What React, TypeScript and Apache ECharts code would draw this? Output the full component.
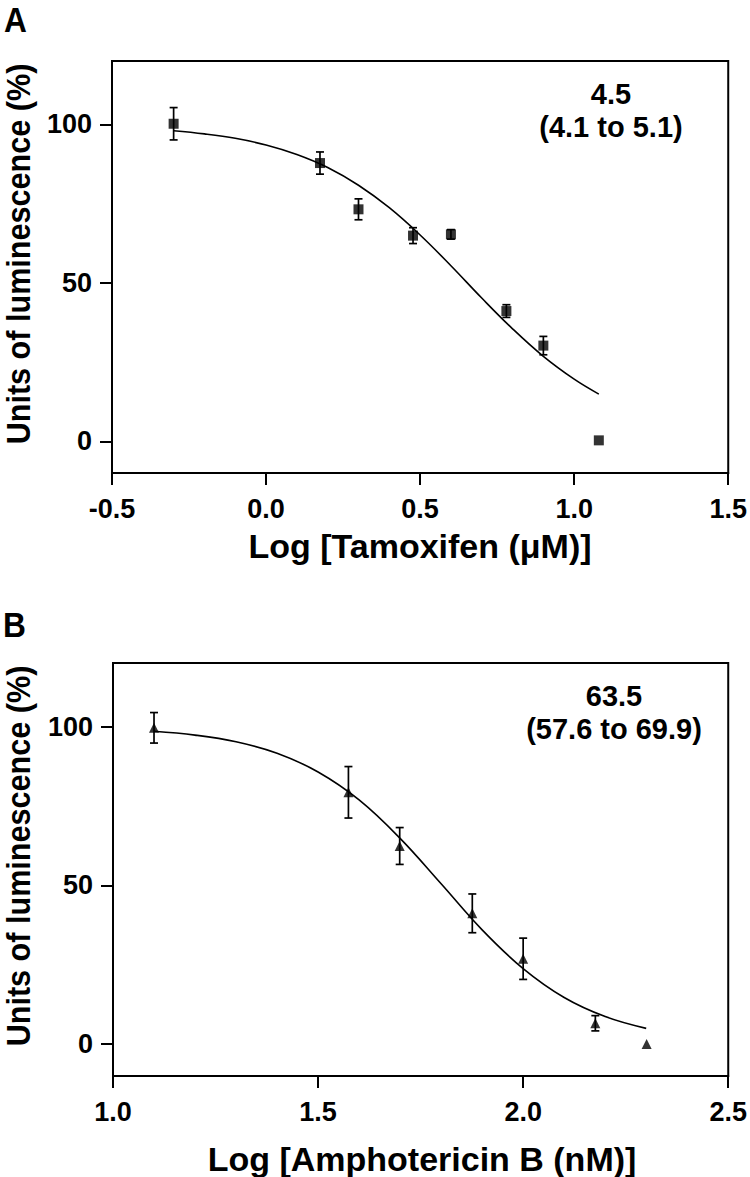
import React, { useEffect, useRef } from "react";
import * as echarts from "echarts";

// Panel A – Tamoxifen
const tamoxifenLogDose = [-0.3, 0.175, 0.3, 0.477, 0.6, 0.78, 0.9, 1.08];
const tamoxifenMean = [100.2, 87.8, 73.2, 64.9, 65.3, 41.1, 30.2, 0.3];
const tamoxifenErr = [5.1, 3.5, 3.3, 2.5, 1.5, 2.0, 2.9, 0];
const tamoxifenFitX = [-0.3, -0.2, -0.1, 0.0, 0.1, 0.2, 0.3, 0.4, 0.5, 0.6, 0.7, 0.8, 0.9, 1.0, 1.08];
const tamoxifenFitY = [98.0, 97.0, 95.6, 93.5, 90.5, 86.4, 80.8, 73.7, 65.1, 55.4, 45.2, 35.5, 26.8, 19.6, 14.9];

// Panel B – Amphotericin B
const amphoLogDose = [1.1, 1.574, 1.699, 1.876, 2.0, 2.176, 2.301];
const amphoMean = [99.6, 79.3, 62.4, 41.2, 26.9, 6.6, 0.1];
const amphoErr = [4.8, 8.1, 5.8, 6.1, 6.5, 2.4, 0];
const amphoFitX = [1.1, 1.2, 1.3, 1.4, 1.5, 1.6, 1.7, 1.8, 1.9, 2.0, 2.1, 2.2, 2.3];
const amphoFitY = [98.5, 97.3, 95.2, 91.6, 85.7, 76.9, 64.8, 50.5, 36.0, 23.8, 14.7, 8.7, 5.0];

const yTicks = [0, 50, 100];
const xTicksA = [-0.5, 0.0, 0.5, 1.0, 1.5];
const xTicksB = [1.0, 1.5, 2.0, 2.5];

const FONT = "'Liberation Sans', Arial, Helvetica, sans-serif";

function errorBarRender(params: any, api: any) {
  const x = api.value(0);
  const y = api.value(1);
  const e = api.value(2);
  if (!e) return { type: "group", children: [] };
  const top = api.coord([x, y + e]);
  const bot = api.coord([x, y - e]);
  const hw = 4;
  const st = { stroke: "#000", lineWidth: 1.7 };
  return {
    type: "group",
    children: [
      { type: "line", shape: { x1: top[0], y1: top[1], x2: bot[0], y2: bot[1] }, style: st },
      { type: "line", shape: { x1: top[0] - hw, y1: top[1], x2: top[0] + hw, y2: top[1] }, style: st },
      { type: "line", shape: { x1: bot[0] - hw, y1: bot[1], x2: bot[0] + hw, y2: bot[1] }, style: st },
    ],
  };
}

function xAxisCfg(gridIndex: number, min: number, max: number, ticks: number[]) {
  return {
    type: "value",
    gridIndex,
    min,
    max,
    interval: 0.5,
    axisLine: { onZero: false, lineStyle: { color: "#000", width: 2 } },
    axisTick: { show: true, length: 12, inside: false, lineStyle: { color: "#000", width: 2 }, customValues: ticks },
    axisLabel: {
      customValues: ticks,
      formatter: (v: number) => v.toFixed(1),
      fontSize: 27,
      fontWeight: "bold",
      fontFamily: FONT,
      color: "#000",
      margin: 22,
    },
    splitLine: { show: false },
  };
}

function yAxisCfg(gridIndex: number) {
  return {
    type: "value",
    gridIndex,
    min: -10,
    max: 120,
    axisLine: { onZero: false, lineStyle: { color: "#000", width: 2 } },
    axisTick: { show: true, length: 12, inside: false, lineStyle: { color: "#000", width: 2 }, customValues: yTicks },
    axisLabel: {
      customValues: yTicks,
      fontSize: 27,
      fontWeight: "bold",
      fontFamily: FONT,
      color: "#000",
      margin: 20,
    },
    splitLine: { show: false },
  };
}

function txt(text: string, x: number, y: number, size: number, align = "center", rotation = 0, scaleX = 1) {
  return {
    type: "text",
    x,
    y,
    rotation,
    scaleX,
    style: {
      text,
      font: `bold ${size}px ${FONT}`,
      fill: "#000",
      align,
      verticalAlign: "middle",
      textAlign: align,
      textVerticalAlign: "middle",
    },
  };
}

export default function App() {
  const ref = useRef<HTMLDivElement>(null);
  useEffect(() => {
    if (!ref.current) return;
    const chart = echarts.init(ref.current, null, { renderer: "svg" });
    const option: any = {
      animation: false,
      backgroundColor: "#fff",
      grid: [
        { left: 112, top: 61, width: 617, height: 412, show: true, borderColor: "#000", borderWidth: 2, backgroundColor: "transparent" },
        { left: 113, top: 663, width: 619, height: 413, show: true, borderColor: "#000", borderWidth: 2, backgroundColor: "transparent" },
      ],
      xAxis: [xAxisCfg(0, -0.5, 1.5, xTicksA), xAxisCfg(1, 1.0, 2.5, xTicksB)],
      yAxis: [yAxisCfg(0), yAxisCfg(1)],
      series: [
        {
          type: "line",
          xAxisIndex: 0,
          yAxisIndex: 0,
          data: tamoxifenFitX.map((x, i) => [x, tamoxifenFitY[i]]),
          smooth: 0.4,
          showSymbol: false,
          lineStyle: { color: "#000", width: 1.6 },
          z: 2,
        },
        {
          type: "custom",
          xAxisIndex: 0,
          yAxisIndex: 0,
          renderItem: errorBarRender,
          encode: { x: 0, y: 1 },
          data: tamoxifenLogDose.map((x, i) => [x, tamoxifenMean[i], tamoxifenErr[i]]),
          z: 3,
        },
        {
          type: "scatter",
          xAxisIndex: 0,
          yAxisIndex: 0,
          symbol: "rect",
          symbolSize: 10,
          itemStyle: { color: "#000" },
          data: tamoxifenLogDose.map((x, i) => [x, tamoxifenMean[i]]),
          z: 4,
        },
        {
          type: "line",
          xAxisIndex: 1,
          yAxisIndex: 1,
          data: amphoFitX.map((x, i) => [x, amphoFitY[i]]),
          smooth: 0.4,
          showSymbol: false,
          lineStyle: { color: "#000", width: 1.6 },
          z: 2,
        },
        {
          type: "custom",
          xAxisIndex: 1,
          yAxisIndex: 1,
          renderItem: errorBarRender,
          encode: { x: 0, y: 1 },
          data: amphoLogDose.map((x, i) => [x, amphoMean[i], amphoErr[i]]),
          z: 3,
        },
        {
          type: "scatter",
          xAxisIndex: 1,
          yAxisIndex: 1,
          symbol: "triangle",
          symbolSize: 10,
          itemStyle: { color: "#000" },
          data: amphoLogDose.map((x, i) => [x, amphoMean[i]]),
          z: 4,
        },
      ],
      graphic: [
        txt("A", 4, 19, 36, "left", 0, 0.88),
        txt("B", 3, 624, 36, "left", 0, 0.88),
        txt("4.5", 611, 94, 29),
        txt("(4.1 to 5.1)", 611, 127, 29),
        txt("63.5", 614, 696, 29),
        txt("(57.6 to 69.9)", 614, 729, 29),
        txt("Log [Tamoxifen (\u03bcM)]", 420, 546, 34),
        txt("Log [Amphotericin B (nM)]", 422, 1159, 34),
        txt("Units of luminescence (%)", 18, 254, 34, "center", Math.PI / 2, 0.9),
        txt("Units of luminescence (%)", 18, 856, 34, "center", Math.PI / 2, 0.9),
      ],
    };
    chart.setOption(option);
    return () => chart.dispose();
  }, []);
  return (
    <div
      ref={ref}
      style={{ position: "fixed", left: 0, top: 0, width: 750, height: 1177, background: "#fff" }}
    />
  );
}
